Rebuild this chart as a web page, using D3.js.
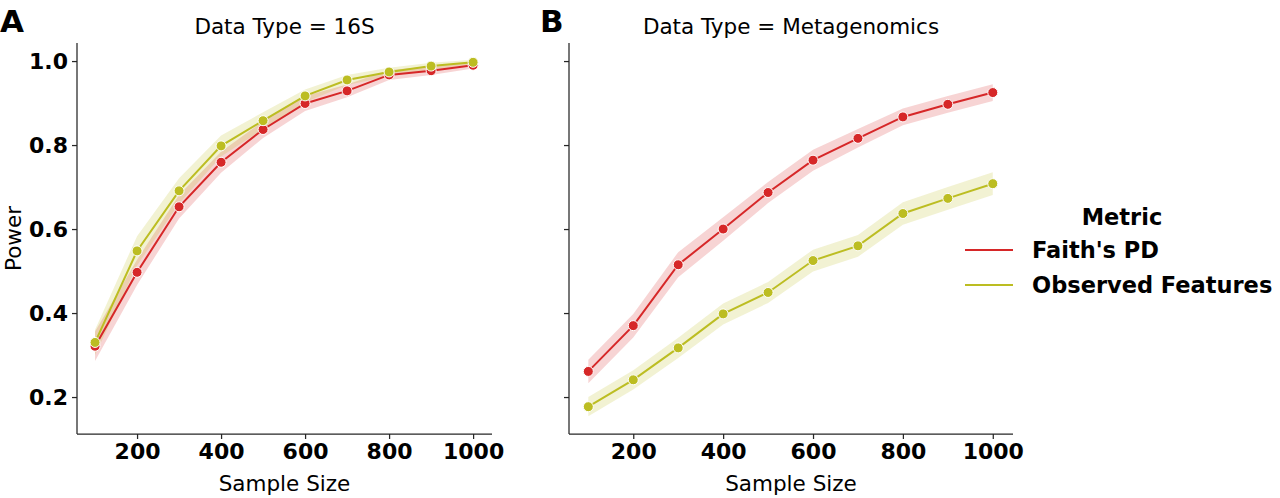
<!DOCTYPE html>
<html lang="en">
<head>
<meta charset="UTF-8">
<title>Power vs Sample Size</title>
<script src="https://d3js.org/d3.v7.min.js"></script>
<style>
    body { margin: 0; background: #fff; }
    svg text { font-family: "DejaVu Sans", sans-serif; fill: #000; }
    .tick text { font-weight: bold; font-size: 22px; }
    .domain, .tick line { stroke: #262626; stroke-width: 1.25; }
</style>
</head>
<body>
<script>
    const sampleSizes = [100, 200, 300, 400, 500, 600, 700, 800, 900, 1000];
    const metrics = ["Faith's PD", "Observed Features"];
    const colors = ["#d62728", "#bcbd22"];

    // 16S panel
    const faith16S = [0.321, 0.497, 0.653, 0.759, 0.837, 0.899, 0.929, 0.967, 0.977, 0.990];
    const faith16SCi = [0.035, 0.03, 0.028, 0.025, 0.02, 0.018, 0.015, 0.012, 0.01, 0.008];
    const obs16S = [0.330, 0.548, 0.691, 0.798, 0.858, 0.917, 0.955, 0.974, 0.988, 0.997];
    const obs16SCi = [0.03, 0.035, 0.03, 0.025, 0.02, 0.015, 0.012, 0.01, 0.008, 0.006];

    // Metagenomics panel
    const faithMeta = [0.261, 0.370, 0.515, 0.600, 0.687, 0.764, 0.816, 0.867, 0.897, 0.925];
    const faithMetaCi = [0.028, 0.028, 0.03, 0.028, 0.025, 0.025, 0.022, 0.02, 0.02, 0.02];
    const obsMeta = [0.177, 0.241, 0.317, 0.398, 0.449, 0.525, 0.560, 0.637, 0.673, 0.708];
    const obsMetaCi = [0.023, 0.023, 0.024, 0.025, 0.025, 0.026, 0.026, 0.027, 0.027, 0.027];

    const yTicks = [0.2, 0.4, 0.6, 0.8, 1.0];
    const xTicks = [200, 400, 600, 800, 1000];

    const panels = [
        { letter: "A", title: "Data Type = 16S", left: 77, right: 492, showY: true,
          series: [[faith16S, faith16SCi], [obs16S, obs16SCi]] },
        { letter: "B", title: "Data Type = Metagenomics", left: 569, right: 1013, showY: false,
          series: [[faithMeta, faithMetaCi], [obsMeta, obsMetaCi]] }
    ];

    const W = 1280, H = 498;
    const plotTop = 43, plotBottom = 434;

    const svg = d3.select("body").append("svg")
        .attr("width", W)
        .attr("height", H);

    const y = d3.scaleLinear().domain([0.112, 1.043]).range([plotBottom, plotTop]);

    panels.forEach((p, pi) => {
        const x = d3.scaleLinear().domain([57, 1045]).range([p.left, p.right]);
        const g = svg.append("g");

        // confidence bands
        p.series.forEach(([vals, ci], si) => {
            const area = d3.area()
                .x((d, i) => x(sampleSizes[i]))
                .y0((d, i) => y(d - ci[i]))
                .y1((d, i) => y(d + ci[i]));
            g.append("path")
                .attr("d", area(vals))
                .attr("fill", colors[si])
                .attr("fill-opacity", 0.2);
        });

        p.series.forEach(([vals], si) => {
            const line = d3.line()
                .x((d, i) => x(sampleSizes[i]))
                .y(d => y(d));
            g.append("path")
                .attr("d", line(vals))
                .attr("fill", "none")
                .attr("stroke", colors[si])
                .attr("stroke-width", 2);
            g.selectAll(null)
                .data(vals)
                .enter().append("circle")
                .attr("cx", (d, i) => x(sampleSizes[i]))
                .attr("cy", d => y(d))
                .attr("r", 5)
                .attr("fill", colors[si])
                .attr("stroke", "#fff")
                .attr("stroke-width", 1);
        });

        const yAxis = d3.axisLeft(y).tickValues(yTicks).tickSize(5).tickPadding(4)
            .tickFormat(p.showY ? d3.format(".1f") : "");
        svg.append("g")
            .attr("transform", `translate(${p.left},0)`)
            .call(yAxis)
            .call(a => a.select(".domain").attr("d", `M-0,${plotBottom}V${plotTop}`));

        const xAxis = d3.axisBottom(x).tickValues(xTicks).tickSize(5).tickPadding(4)
            .tickFormat(d3.format("d"));
        svg.append("g")
            .attr("transform", `translate(0,${plotBottom})`)
            .call(xAxis)
            .call(a => a.select(".domain").attr("d", `M${p.left},0H${p.right}`));

        svg.append("text")
            .attr("x", (p.left + p.right) / 2)
            .attr("y", 491)
            .attr("text-anchor", "middle")
            .style("font-size", "21.5px")
            .text("Sample Size");

        svg.append("text")
            .attr("x", (p.left + p.right) / 2)
            .attr("y", 34)
            .attr("text-anchor", "middle")
            .style("font-size", "21.5px")
            .text(p.title);

        svg.append("text")
            .attr("x", pi === 0 ? 0 : 540)
            .attr("y", 32)
            .style("font-size", "31px")
            .style("font-weight", "bold")
            .text(p.letter);
    });

    svg.append("text")
        .attr("transform", `translate(21,${(plotTop + plotBottom) / 2}) rotate(-90)`)
        .attr("text-anchor", "middle")
        .style("font-size", "21.5px")
        .text("Power");

    // legend
    const lg = svg.append("g");
    lg.append("text")
        .attr("x", 1122).attr("y", 225)
        .attr("text-anchor", "middle")
        .style("font-size", "22.5px").style("font-weight", "bold")
        .text("Metric");
    metrics.forEach((m, i) => {
        const ly = 250 + i * 35;
        lg.append("line")
            .attr("x1", 965).attr("x2", 1013)
            .attr("y1", ly).attr("y2", ly)
            .attr("stroke", colors[i]).attr("stroke-width", 2);
        lg.append("text")
            .attr("x", 1032).attr("y", ly + 8)
            .style("font-size", "22.5px").style("font-weight", "bold")
            .text(m);
    });
</script>
</body>
</html>
